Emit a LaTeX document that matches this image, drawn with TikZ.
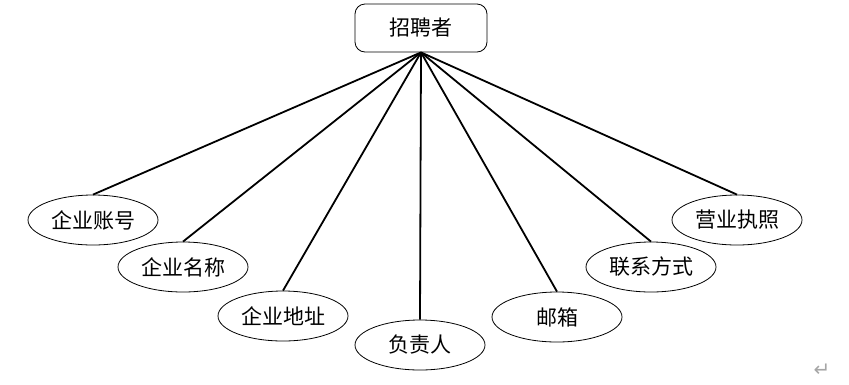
\documentclass[tikz,border=0pt]{standalone}
\usepackage{fontspec}
\setmainfont{Noto Sans CJK SC}
\newfontfamily\symfont{DejaVu Sans}
\usetikzlibrary{shapes.geometric}
\begin{document}
\begin{tikzpicture}[x=1pt,y=-1pt,
  attr/.style={ellipse,draw,line width=0.8pt,minimum width=130pt,minimum height=50pt,inner sep=0pt,font=\fontsize{21}{21}\selectfont},
  ent/.style={rectangle,rounded corners=10pt,draw,line width=0.8pt,minimum width=132pt,minimum height=48pt,inner sep=0pt,font=\fontsize{21}{21}\selectfont},
  link/.style={line width=1.8pt}]
\useasboundingbox (0,0) rectangle (849,384);
\node[ent] (top) at (421,28) {招聘者};
\node[attr] (a1) at (93,220) {企业账号};
\node[attr] (a2) at (183,267) {企业名称};
\node[attr] (a3) at (283,316) {企业地址};
\node[attr] (a4) at (420,345) {负责人};
\node[attr] (a5) at (557,317) {邮箱};
\node[attr] (a6) at (651,267) {联系方式};
\node[attr] (a7) at (737,220) {营业执照};
\foreach \n in {a1,a2,a3,a4,a5,a6,a7} \draw[link] (top.south) -- (\n.north);
\node[text=gray!70,font=\symfont\fontsize{20}{20}\selectfont] (ret) at (822,370) {↵};
\end{tikzpicture}
\end{document}
